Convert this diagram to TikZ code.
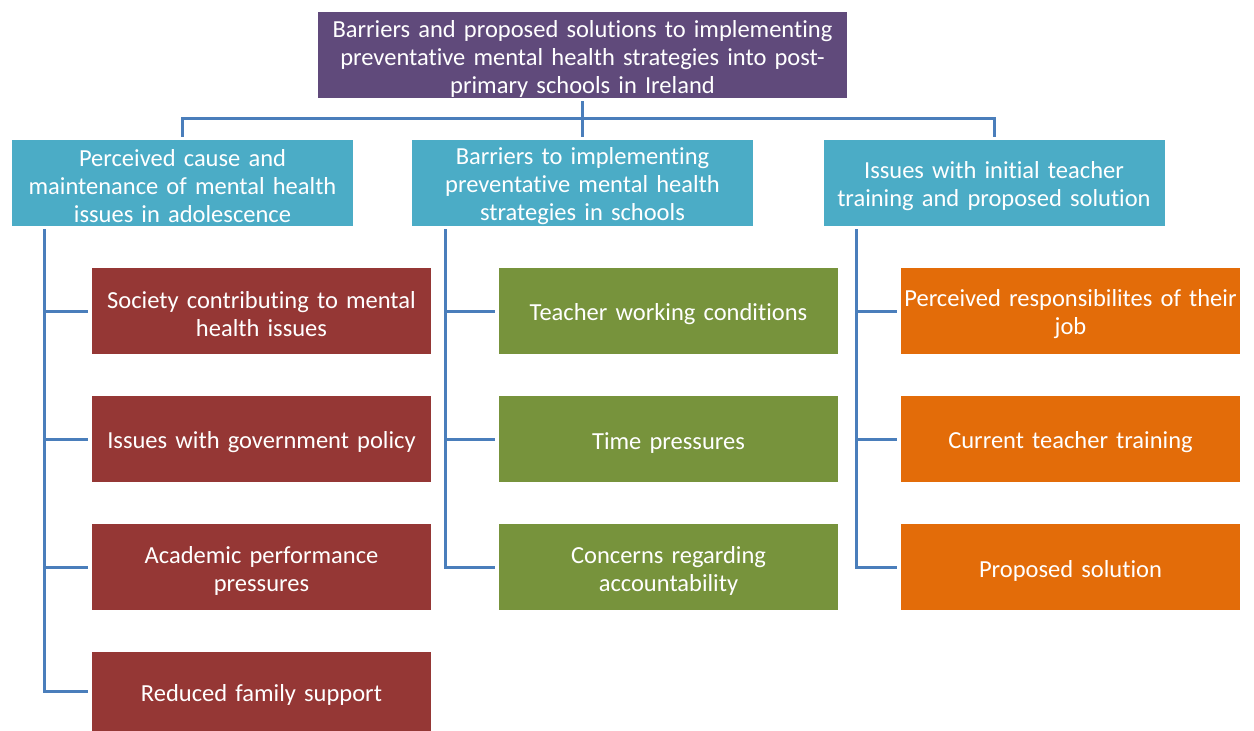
\documentclass[tikz,border=0pt]{standalone}
\usepackage{fontspec}
\setmainfont[RawFeature=-liga]{Carlito}
\definecolor{cpurple}{HTML}{604A7B}
\definecolor{caqua}{HTML}{4BACC6}
\definecolor{cred}{HTML}{953735}
\definecolor{cgreen}{HTML}{77933C}
\definecolor{corange}{HTML}{E36C09}
\definecolor{cline}{HTML}{4A7EBB}
\begin{document}
\begin{tikzpicture}[x=1pt,y=-1pt,
  box/.style={rectangle,inner sep=0pt,text=white,align=center,
    font=\fontsize{24.5}{28}\selectfont,draw=none,
    execute at begin node={\rule{0pt}{24pt}}},
  top/.style={box,fill=cpurple,minimum width=529pt,minimum height=86pt,text width=525pt},
  lone/.style={box,fill=caqua,minimum width=341pt,minimum height=86pt,text width=339pt},
  lred/.style={box,fill=cred,minimum width=339pt,minimum height=86pt,text width=339pt},
  lgreen/.style={box,fill=cgreen,minimum width=339pt,minimum height=86pt,text width=339pt},
  lorange/.style={box,fill=corange,minimum width=339pt,minimum height=86pt,text width=339pt},
  conn/.style={draw=cline,line width=3pt,shorten <=3pt,shorten >=3pt}]
\useasboundingbox (0,0) rectangle (1254,731);
\node[top] (t) at (582.5,55) {Barriers and proposed solutions to implementing\\preventative mental health strategies into post-\\primary schools in Ireland};
\node[lone] (a) at (182.5,183) {Perceived cause and\\maintenance of mental health\\issues in adolescence};
\node[lone] (b) at (582.5,183) {Barriers to implementing\\preventative mental health\\strategies in schools};
\node[lone] (c) at (994,183) {Issues with initial teacher\\training and proposed solution};
\node[lred] (a1) at (261.5,311) {Society contributing to mental\\health issues};
\node[lred] (a2) at (261.5,439) {Issues with government policy};
\node[lred] (a3) at (261.5,567) {Academic performance\\pressures};
\node[lred,minimum height=79pt] (a4) at (261.5,691.5) {Reduced family support};
\node[lgreen] (b1) at (668.5,311) {Teacher working conditions};
\node[lgreen] (b2) at (668.5,439) {Time pressures};
\node[lgreen] (b3) at (668.5,567) {Concerns regarding\\accountability};
\node[lorange] (c1) at (1070.5,311) {Perceived responsibilites of their\\job};
\node[lorange] (c2) at (1070.5,439) {Current teacher training};
\node[lorange] (c3) at (1070.5,567) {Proposed solution};
\coordinate (h) at (582.5,118);
\draw[conn,shorten >=0pt] (t.south) -- (h);
\draw[conn,shorten <=0pt] (h) -| (a.north);
\draw[conn,shorten <=0pt] (h) -| (c.north);
\draw[conn,shorten <=0pt] (h) -- (b.north);
\coordinate (as) at ([xshift=33pt]a.south west);
\coordinate (bs) at ([xshift=34pt]b.south west);
\coordinate (cs) at ([xshift=33pt]c.south west);
\foreach \p/\k in {as/a1,as/a2,as/a3,as/a4,bs/b1,bs/b2,bs/b3,cs/c1,cs/c2,cs/c3}
  \draw[conn,shorten >=4pt] (\p) |- (\k.west);
\end{tikzpicture}
\end{document}
